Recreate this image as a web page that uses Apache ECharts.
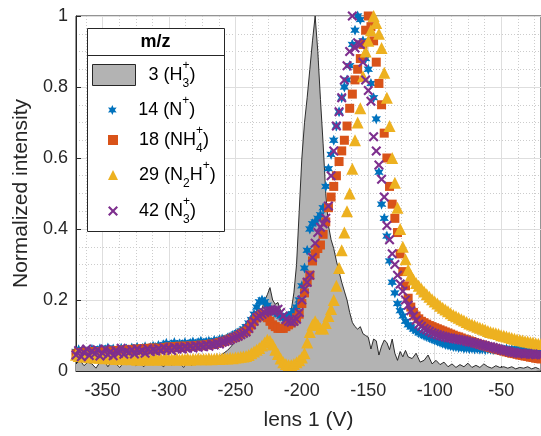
<!DOCTYPE html>
<html><head><meta charset="utf-8">
<script src="https://cdn.jsdelivr.net/npm/echarts@6/dist/echarts.min.js"></script>
<style>html,body{margin:0;padding:0;background:#fff}#c{width:541px;height:436px}</style>
</head><body><div id="c"></div>
<script>
// ---------- labels ----------
const seriesNames = ['3 (H3+)', '14 (N+)', '18 (NH4+)', '29 (N2H+)', '42 (N3+)'];
const legendRich = [
  '{m|3 (H}{sb|3}{sp|+}{m|)}',
  '{m|14 (N}{sp|+}{m|)}',
  '{m|18 (NH}{sb|4}{sp|+}{m|)}',
  '{m|29 (N}{sb2|2}{m|H}{sp|+}{m|)}',
  '{m|42 (N}{sb|3}{sp|+}{m|)}'
];
const legendTitle = 'm/z';
const xName = 'lens 1 (V)';
const yName = 'Normalized intensity';
const xTickValues = [-350, -300, -250, -200, -150, -100, -50];
const xMinorValues = [-362.5, -337.5, -325, -312.5, -287.5, -275, -262.5, -237.5, -225, -212.5,
  -187.5, -175, -162.5, -137.5, -125, -112.5, -87.5, -75, -62.5, -37.5, -25];

// ---------- H3+ (area) ----------
const h3X = [
  -370,-367,-364,-361,-358,-355,-352,-349,-346,-343,-340,-337,-334,-331,-328,-325,-322,-319,-316,-313,
  -310,-307,-304,-301,-298,-295,-292,-289,-286,-283,-280,-277,-274,-271,-268,-265,-262,-259,-256,-253,-250,
  -248,-246,-244,-242,-240,-238,-236,-234,-232,-230,-228,-226,-224,-222,-220,-218,-216,-214,-212,-210,
  -208,-206,-204,-202,-200,-198,-196,-194,-192,-190,-188,-186,-184,-182,-180,-178,-176,-174,-172,-170,
  -168,-166,-164,-162,-160,-158,-156,-154,-152,-150,-148,-146,-144,-142,-140,-138,-136,-134,-132,-130,
  -128,-126,-124,-122,-120,
  -117,-114,-111,-108,-105,-102,-99,-96,-93,-90,-87,-84,-81,-78,-75,-72,-69,-66,-63,-60,
  -57,-54,-51,-48,-45,-42,-39,-36,-33,-30,-27,-24,-21
];
const h3Y = [
  0.02,0.03,0.015,0.025,0.02,0.008,0.025,0.03,0.012,0.028,0.02,0.01,0.025,0.018,0.03,0.015,0.022,0.012,0.026,0.018,
  0.03,0.02,0.012,0.028,0.016,0.03,0.022,0.01,0.028,0.015,0.03,0.02,0.032,0.024,0.035,0.03,0.042,0.05,0.058,0.07,0.085,
  0.1,0.118,0.125,0.132,0.14,0.15,0.16,0.17,0.172,0.175,0.2,0.215,0.235,0.2,0.188,0.193,0.17,0.15,0.155,0.165,
  0.17,0.22,0.3,0.45,0.6,0.7,0.77,0.85,0.93,1.0,0.9,0.765,0.64,0.5,0.41,0.37,0.345,0.31,0.28,0.25,
  0.225,0.2,0.165,0.137,0.125,0.118,0.125,0.105,0.1,0.095,0.062,0.09,0.085,0.045,0.07,0.087,0.08,0.06,0.09,0.05,
  0.03,0.055,0.04,0.058,0.04,
  0.035,0.05,0.025,0.03,0.045,0.02,0.03,0.018,0.025,0.012,0.02,0.01,0.018,0.012,0.022,0.01,0.016,0.01,0.02,0.012,
  0.008,0.015,0.01,0.012,0.008,0.012,0.006,0.01,0.008,0.012,0.006,0.01,0.005
];

// ---------- scatter series (common lens voltages, 2 V steps) ----------
const ionX = [
  -370,-368,-366,-364,-362,-360,-358,-356,-354,-352,
  -350,-348,-346,-344,-342,-340,-338,-336,-334,-332,
  -330,-328,-326,-324,-322,-320,-318,-316,-314,-312,
  -310,-308,-306,-304,-302,-300,-298,-296,-294,-292,
  -290,-288,-286,-284,-282,-280,-278,-276,-274,-272,
  -270,-268,-266,-264,-262,-260,-258,-256,-254,-252,
  -250,-248,-246,-244,-242,-240,-238,-236,-234,-232,
  -230,-228,-226,-224,-222,-220,-218,-216,-214,-212,
  -210,-208,-206,-204,-202,-200,-198,-196,-194,-192,
  -190,-188,-186,-184,-182,-180,-178,-176,-174,-172,
  -170,-168,-166,-164,-162,-160,-158,-156,-154,-152,
  -150,-148,-146,-144,-142,-140,-138,-136,-134,-132,
  -130,-128,-126,-124,-122,-120,-118,-116,-114,-112,
  -110,-108,-106,-104,-102,-100,-98,-96,-94,-92,
  -90,-88,-86,-84,-82,-80,-78,-76,-74,-72,
  -70,-68,-66,-64,-62,-60,-58,-56,-54,-52,
  -50,-48,-46,-44,-42,-40,-38,-36,-34,-32,
  -30,-28,-26,-24,-22,-20
];
const nY = [
  0.055,0.06,0.052,0.058,0.05,0.057,0.061,0.054,0.058,0.063,
  0.056,0.06,0.065,0.058,0.062,0.055,0.06,0.064,0.058,0.062,
  0.058,0.065,0.061,0.067,0.06,0.064,0.068,0.062,0.066,0.07,
  0.066,0.072,0.068,0.074,0.078,0.07,0.075,0.08,0.073,0.077,
  0.075,0.08,0.074,0.078,0.082,0.076,0.08,0.084,0.078,0.082,
  0.084,0.08,0.086,0.083,0.088,0.09,0.087,0.093,0.096,0.1,
  0.104,0.108,0.112,0.118,0.125,0.135,0.145,0.16,0.18,0.195,
  0.2,0.195,0.185,0.175,0.17,0.165,0.16,0.155,0.15,0.15,
  0.155,0.16,0.17,0.18,0.2,0.24,0.29,0.34,0.4,0.415,
  0.42,0.43,0.44,0.46,0.52,0.57,0.61,0.65,0.69,0.73,
  0.77,0.8,0.82,0.86,0.92,0.96,1.0,0.99,0.93,0.88,
  0.85,0.81,0.77,0.71,0.56,0.47,0.43,0.38,0.31,0.25,
  0.22,0.19,0.17,0.155,0.14,0.13,0.124,0.118,0.113,0.108,
  0.104,0.1,0.097,0.094,0.09,0.087,0.084,0.081,0.078,0.075,
  0.073,0.071,0.069,0.068,0.066,0.067,0.064,0.065,0.063,0.064,
  0.062,0.063,0.061,0.062,0.06,0.062,0.061,0.06,0.062,0.06,
  0.061,0.06,0.062,0.059,0.061,0.06,0.062,0.06,0.059,0.061,
  0.06,0.059,0.061,0.06,0.06,0.06
];
const nh4Y = [
  0.048,0.052,0.05,0.054,0.049,0.053,0.051,0.055,0.05,0.054,
  0.052,0.056,0.053,0.057,0.054,0.058,0.055,0.059,0.056,0.06,
  0.058,0.061,0.057,0.062,0.059,0.063,0.06,0.064,0.061,0.065,
  0.06,0.064,0.062,0.066,0.064,0.068,0.065,0.069,0.066,0.07,
  0.066,0.07,0.068,0.071,0.069,0.072,0.07,0.073,0.071,0.074,
  0.074,0.076,0.075,0.078,0.08,0.082,0.084,0.087,0.09,0.093,
  0.095,0.099,0.104,0.108,0.112,0.12,0.13,0.14,0.15,0.155,
  0.16,0.155,0.15,0.14,0.13,0.125,0.12,0.12,0.12,0.125,
  0.13,0.135,0.14,0.15,0.16,0.19,0.22,0.25,0.27,0.31,
  0.33,0.345,0.355,0.385,0.42,0.46,0.49,0.52,0.55,0.59,
  0.62,0.65,0.69,0.74,0.78,0.82,0.85,0.88,0.92,0.96,
  1.0,0.97,0.93,0.87,0.81,0.75,0.67,0.6,0.52,0.47,
  0.43,0.39,0.33,0.28,0.24,0.205,0.18,0.165,0.155,0.147,
  0.14,0.136,0.132,0.128,0.125,0.122,0.119,0.116,0.113,0.11,
  0.107,0.104,0.101,0.098,0.096,0.093,0.09,0.088,0.085,0.083,
  0.08,0.078,0.075,0.073,0.071,0.068,0.066,0.064,0.062,0.06,
  0.058,0.056,0.054,0.052,0.05,0.049,0.047,0.045,0.044,0.042,
  0.041,0.039,0.038,0.036,0.035,0.034
];
const n2hY = [
  0.046,0.042,0.044,0.04,0.043,0.039,0.041,0.038,0.04,0.037,
  0.039,0.036,0.038,0.035,0.037,0.034,0.036,0.033,0.035,0.034,
  0.036,0.033,0.035,0.032,0.034,0.033,0.035,0.032,0.034,0.033,
  0.035,0.032,0.034,0.033,0.035,0.032,0.034,0.033,0.035,0.032,
  0.034,0.033,0.035,0.032,0.034,0.033,0.035,0.033,0.034,0.033,
  0.035,0.033,0.034,0.035,0.034,0.035,0.036,0.035,0.037,0.036,
  0.038,0.039,0.04,0.041,0.042,0.045,0.05,0.055,0.06,0.065,
  0.072,0.08,0.088,0.085,0.075,0.06,0.048,0.035,0.025,0.02,
  0.017,0.017,0.02,0.025,0.03,0.038,0.05,0.08,0.11,0.13,
  0.14,0.13,0.12,0.12,0.135,0.155,0.175,0.2,0.24,0.29,
  0.34,0.39,0.45,0.5,0.57,0.65,0.7,0.74,0.83,0.9,
  0.93,0.96,1.0,0.98,0.95,0.91,0.84,0.77,0.69,0.6,
  0.53,0.46,0.4,0.35,0.315,0.285,0.27,0.258,0.248,0.24,
  0.232,0.224,0.216,0.209,0.202,0.196,0.19,0.184,0.178,0.173,
  0.168,0.163,0.158,0.154,0.15,0.146,0.142,0.138,0.134,0.131,
  0.128,0.125,0.122,0.119,0.116,0.113,0.11,0.108,0.106,0.104,
  0.101,0.099,0.097,0.095,0.093,0.091,0.089,0.087,0.086,0.084,
  0.083,0.081,0.08,0.078,0.077,0.076
];
const n3Y = [
  0.045,0.058,0.04,0.052,0.062,0.044,0.056,0.048,0.06,0.042,
  0.05,0.062,0.046,0.055,0.043,0.058,0.05,0.064,0.047,0.056,
  0.052,0.06,0.048,0.062,0.054,0.058,0.05,0.063,0.055,0.06,
  0.056,0.063,0.058,0.066,0.06,0.064,0.058,0.067,0.062,0.066,
  0.062,0.068,0.064,0.07,0.065,0.071,0.067,0.072,0.068,0.074,
  0.07,0.075,0.073,0.078,0.076,0.081,0.083,0.086,0.088,0.092,
  0.095,0.098,0.102,0.106,0.11,0.12,0.13,0.14,0.15,0.155,
  0.16,0.165,0.168,0.17,0.17,0.172,0.174,0.165,0.155,0.145,
  0.14,0.137,0.14,0.146,0.165,0.2,0.23,0.25,0.27,0.32,
  0.36,0.39,0.405,0.415,0.43,0.465,0.55,0.62,0.69,0.73,
  0.77,0.82,0.86,0.9,1.0,0.91,0.925,0.92,0.87,0.82,
  0.79,0.76,0.66,0.62,0.58,0.54,0.49,0.41,0.37,0.33,
  0.3,0.27,0.245,0.225,0.2,0.185,0.17,0.155,0.143,0.132,
  0.126,0.12,0.116,0.112,0.108,0.105,0.102,0.1,0.098,0.096,
  0.094,0.093,0.091,0.09,0.089,0.087,0.086,0.084,0.082,0.081,
  0.079,0.077,0.075,0.073,0.071,0.069,0.068,0.066,0.064,0.062,
  0.06,0.058,0.057,0.055,0.053,0.052,0.05,0.049,0.05,0.048,
  0.049,0.047,0.048,0.046,0.047,0.046
];

// ---------- styling ----------
const FONT = 'Liberation Sans, Arial, Helvetica, sans-serif';
const AX = '#262626';
const colors = ['#b3b3b3', '#0072BD', '#D95319', '#EDB120', '#7E2F8E'];

function starPath(points, rIn) {
  let d = '';
  for (let i = 0; i < points * 2; i++) {
    const r = i % 2 === 0 ? 50 : 50 * rIn;
    const a = Math.PI / 2 + i * Math.PI / points;
    const px = (50 + r * Math.cos(a)).toFixed(2), py = (50 - r * Math.sin(a)).toFixed(2);
    d += (i === 0 ? 'M' : 'L') + px + ',' + py + ' ';
  }
  return 'path://' + d + 'Z';
}
const hexSym = starPath(6, 0.5);
const xSym = 'path://M1.5,0 L5,3.5 L8.5,0 L10,1.5 L6.5,5 L10,8.5 L8.5,10 L5,6.5 L1.5,10 L0,8.5 L3.5,5 L0,1.5 Z';

const zip = (xs, ys) => xs.map((x, i) => [x, ys[i]]);

const rich = {
  m: { fontSize: 18, lineHeight: 30, color: '#000', fontFamily: FONT },
  sp: { fontSize: 12, lineHeight: 13, verticalAlign: 'top', color: '#000', fontFamily: FONT },
  sb: { fontSize: 12, lineHeight: 15, verticalAlign: 'bottom', width: 0, color: '#000', fontFamily: FONT },
  sb2: { fontSize: 12, lineHeight: 15, verticalAlign: 'bottom', color: '#000', fontFamily: FONT }
};

const legendTops = [60, 95, 125, 160, 196];
const legends = seriesNames.map((nm, i) => ({
  show: true,
  orient: 'vertical',
  left: i === 0 ? 92 : 108,
  top: legendTops[i],
  padding: 0,
  itemGap: 0,
  itemWidth: i === 0 ? 43 : 10,
  itemHeight: i === 0 ? 21 : 10,
  selectedMode: false,
  z: 10,
  data: i === 0 ? [{ name: nm, icon: 'rect', itemStyle: { color: colors[0], borderColor: AX, borderWidth: 1 } }] : [nm],
  formatter: () => legendRich[i],
  textStyle: { rich: rich, padding: [0, 0, 0, i === 0 ? 8 : 16], fontFamily: FONT, fontSize: 18 }
}));

const scatterDefs = [
  { y: nY, sym: hexSym, size: 11 },
  { y: nh4Y, sym: 'rect', size: 9 },
  { y: n2hY, sym: 'triangle', size: 12 },
  { y: n3Y, sym: xSym, size: 10 }
];

const option = {
  animation: false,
  backgroundColor: '#fff',
  textStyle: { fontFamily: FONT },
  grid: { left: 76, top: 16, width: 469, height: 358, show: true, borderColor: AX, borderWidth: 1, backgroundColor: 'transparent' },
  legend: legends,
  graphic: [
    { type: 'rect', z: 8, shape: { x: 87.5, y: 28.5, width: 137, height: 203 }, style: { fill: '#fff', stroke: AX, lineWidth: 1 } },
    { type: 'line', z: 9, shape: { x1: 87.5, y1: 55.5, x2: 224.5, y2: 55.5 }, style: { stroke: AX, lineWidth: 1 } },
    { type: 'text', z: 9, x: 155.5, y: 42.5, style: { text: legendTitle, fontSize: 18, fontWeight: 'bold', fontFamily: FONT, fill: '#000', align: 'center', verticalAlign: 'middle' } }
  ],
  xAxis: [
    {
      type: 'value', min: -370, max: -20,
      name: xName, nameLocation: 'middle', nameGap: 39,
      nameTextStyle: { fontSize: 21, color: AX, fontFamily: FONT },
      axisLine: { show: true, lineStyle: { color: AX } },
      axisTick: { show: true, inside: true, length: 5, lineStyle: { color: AX }, customValues: xTickValues },
      axisLabel: { show: true, fontSize: 18, color: AX, margin: 11, fontFamily: FONT, customValues: xTickValues },
      splitLine: { show: true, lineStyle: { color: '#dedede', width: 1 } }
    },
    {
      type: 'value', min: -370, max: -20, position: 'bottom',
      axisLine: { show: false }, axisLabel: { show: false },
      axisTick: { show: false, customValues: xMinorValues },
      splitLine: { show: true, lineStyle: { color: '#cccccc', width: 1, type: [1, 2] } }
    }
  ],
  yAxis: {
    type: 'value', min: 0, max: 1, interval: 0.2,
    name: yName, nameLocation: 'middle', nameGap: 36,
    nameTextStyle: { fontSize: 21, color: AX, fontFamily: FONT },
    axisLine: { show: true, lineStyle: { color: AX } },
    axisTick: { show: true, inside: true, length: 5, lineStyle: { color: AX } },
    axisLabel: { fontSize: 18, color: AX, margin: 8, fontFamily: FONT },
    splitLine: { show: true, lineStyle: { color: '#dedede', width: 1 } },
    minorTick: { show: false, splitNumber: 4 },
    minorSplitLine: { show: true, lineStyle: { color: '#cccccc', width: 1, type: [1, 2] } }
  },
  series: [
    {
      name: seriesNames[0], type: 'line', xAxisIndex: 0, data: zip(h3X, h3Y),
      symbol: 'none', color: colors[0],
      lineStyle: { color: '#1a1a1a', width: 0.9 },
      areaStyle: { color: colors[0], opacity: 1 },
      z: 2
    }
  ].concat(scatterDefs.map((d, i) => ({
    name: seriesNames[i + 1], type: 'scatter', xAxisIndex: 0, data: zip(ionX, d.y),
    symbol: d.sym, symbolSize: d.size, symbolKeepAspect: true,
    itemStyle: { color: colors[i + 1], opacity: 1 },
    z: 3 + i
  })))
};

const chart = echarts.init(document.getElementById('c'), null, { renderer: 'canvas' });
chart.setOption(option);
</script>
</body></html>
